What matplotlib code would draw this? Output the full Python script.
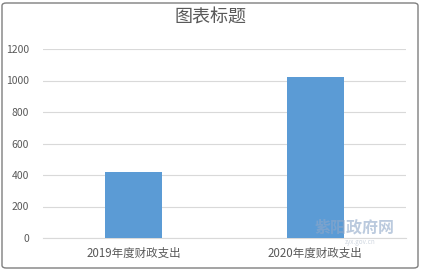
import matplotlib.pyplot as plt
from matplotlib.patches import FancyBboxPatch

plt.rcParams["font.family"] = ["Noto Sans CJK SC", "DejaVu Sans"]

categories = ["2019年度财政支出", "2020年度财政支出"]
values = [420, 1020]
yticks = [0, 200, 400, 600, 800, 1000, 1200]

fig = plt.figure(figsize=(4.22, 2.71), dpi=100)
ax = fig.add_axes([43 / 422, 1 - 238 / 271, 363 / 422, 189 / 271])

ax.bar(range(len(categories)), values, width=0.314, color="#5B9BD5", zorder=3)
ax.set_xlim(-0.5, 1.5)
ax.set_ylim(0, 1200)
ax.set_yticks(yticks)
ax.set_xticks(range(len(categories)))
ax.set_xticklabels(categories)
ax.yaxis.grid(True, color="#D9D9D9", linewidth=0.8, zorder=0)
for s in ax.spines.values():
    s.set_visible(False)
ax.spines["bottom"].set_visible(True)
ax.spines["bottom"].set_color("#D9D9D9")
ax.tick_params(axis="both", length=0, labelcolor="#595959")
ax.tick_params(axis="y", pad=10, labelsize=7.5)
ax.tick_params(axis="x", pad=6, labelsize=8.3)

fig.text(0.5, 1 - 18 / 271, "图表标题", ha="center", va="center",
         fontsize=13, color="#595959")

# watermark
fig.text(354 / 422, 1 - 228 / 271, "紫阳政府网", ha="center", va="center",
         fontsize=11.5, color="#8FA8C8", alpha=0.6, weight="bold")
fig.text(360 / 422, 1 - 241.5 / 271, "zyx.gov.cn", ha="center", va="center",
         fontsize=4.5, color="#B0BCCC", alpha=0.6)

# chart frame
frame = FancyBboxPatch((2 / 422, 3 / 271), 416 / 422, 265 / 271,
                       boxstyle="round,pad=0,rounding_size=0.01",
                       transform=fig.transFigure, fill=False,
                       edgecolor="#7F7F7F", linewidth=1)
fig.patches.append(frame)

fig.savefig("out.png", dpi=100)
